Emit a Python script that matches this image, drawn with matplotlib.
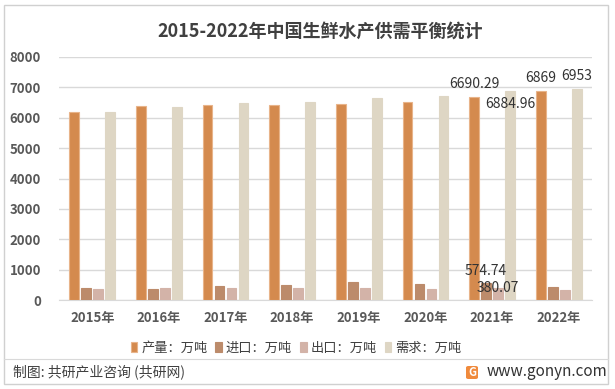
import matplotlib
matplotlib.use("Agg")
import matplotlib.pyplot as plt
from matplotlib.patches import Rectangle, FancyBboxPatch
from matplotlib.lines import Line2D
import numpy as np

plt.rcParams['font.family'] = ['Noto Sans CJK SC', 'DejaVu Sans']

years = ["2015年", "2016年", "2017年", "2018年", "2019年", "2020年", "2021年", "2022年"]
production = [6195, 6371, 6436, 6436, 6469, 6524, 6690.29, 6869]
imports = [395, 362, 460, 493, 592, 526, 574.74, 428]
exports = [362, 395, 395, 395, 395, 362, 380.07, 329]
demand = [6173, 6349, 6480, 6513, 6645, 6711, 6884.96, 6953]

series_names = ["产量：万吨", "进口：万吨", "出口：万吨", "需求：万吨"]
colors = ["#D48A4E", "#BC8B6B", "#D3B3A8", "#DED6C4"]
edge_colors = ["#E8B48A", "#BC8B6B", "#D3B3A8", "#DED6C4"]

W, H = 615, 389
fig = plt.figure(figsize=(W / 100, H / 100), dpi=100)

# outer frame
fig.add_artist(Rectangle((4 / W, 1 - 384 / H), 604 / W, 379 / H, transform=fig.transFigure,
                         fill=False, edgecolor="#D0D0D0", linewidth=1.0))
# separator line
fig.add_artist(Line2D([4 / W, 608 / W], [1 - 359 / H, 1 - 359 / H], transform=fig.transFigure,
                      color="#D9D9D9", linewidth=0.8))

ax = fig.add_axes([59 / W, 1 - 300 / H, (592 - 59) / W, (300 - 57) / H])
x = np.arange(len(years))
s = 0.18
bw = 0.145
all_series = [production, imports, exports, demand]
for k, (vals, c, ec) in enumerate(zip(all_series, colors, edge_colors)):
    ax.bar(x + (k - 1.5) * s, vals, width=bw, color=c, edgecolor=ec, linewidth=0.8,
           label=series_names[k], zorder=3)

ax.set_xlim(-0.5, len(years) - 0.5)
ax.set_ylim(0, 8000)
ax.set_yticks(np.arange(0, 8001, 1000))
ax.set_yticklabels([str(v) for v in range(0, 8001, 1000)])
ax.set_xticks(x)
ax.set_xticklabels(years)
ax.grid(axis="y", color="#D9D9D9", linewidth=1.0, zorder=0)
ax.set_axisbelow(True)
for sp in ["top", "right", "left"]:
    ax.spines[sp].set_visible(False)
ax.spines["bottom"].set_color("#D9D9D9")
ax.tick_params(axis="both", length=0, colors="#595959", labelsize=9.5)
ax.tick_params(axis="x", pad=8)
ax.tick_params(axis="y", pad=13)
for lab in ax.get_xticklabels() + ax.get_yticklabels():
    lab.set_fontweight("bold")
    lab.set_color("#595959")

lbl = dict(fontsize=10, color="#333333", fontweight="medium", ha="center", va="center", zorder=5)
# 2021 labels
i = 6
ax.text(x[i] - 1.5 * s, production[i] + 415, f"{production[i]:.2f}", **lbl)
ax.text(x[i] + 1.5 * s, demand[i] - 440, f"{demand[i]:.2f}", **lbl)
ax.text(x[i] - 0.5 * s, imports[i] + 380, f"{imports[i]:.2f}", **lbl)
ax.text(x[i] + 0.5 * s, exports[i] + 15, f"{exports[i]:.2f}", **lbl)
# 2022 labels
i = 7
ax.text(x[i] - 1.5 * s, production[i] + 430, f"{production[i]:g}", **lbl)
ax.text(x[i] + 1.5 * s, demand[i] + 420, f"{demand[i]:g}", **lbl)

fig.text(320 / W, 1 - 31 / H, "2015-2022年中国生鲜水产供需平衡统计", ha="center", va="center",
         fontsize=13, fontweight="bold", color="#404040")

leg = ax.legend(loc="center", bbox_to_anchor=(296 / W, 1 - 348 / H), bbox_transform=fig.transFigure,
                ncol=4, frameon=False, fontsize=9.5, handlelength=0.5, handleheight=0.7,
                handletextpad=0.3, columnspacing=0.6, labelcolor="#404040")

fig.text(13 / W, 1 - 372 / H, "制图: 共研产业咨询 (共研网)", ha="left", va="center",
         fontsize=10, color="#404040")
# logo
fig.add_artist(FancyBboxPatch((466 / W, 1 - 379 / H), 12 / W, 13 / H, transform=fig.transFigure,
                              boxstyle="round,pad=0,rounding_size=0.004", facecolor="#F08A3C",
                              edgecolor="none"))
fig.text(472 / W, 1 - 372.5 / H, "G", ha="center", va="center", fontsize=8, fontweight="bold",
         color="white")
fig.text(487 / W, 1 - 372 / H, "www.gonyn.com", ha="left", va="center", fontsize=11, color="#333333")

fig.savefig("out.png", dpi=100)
